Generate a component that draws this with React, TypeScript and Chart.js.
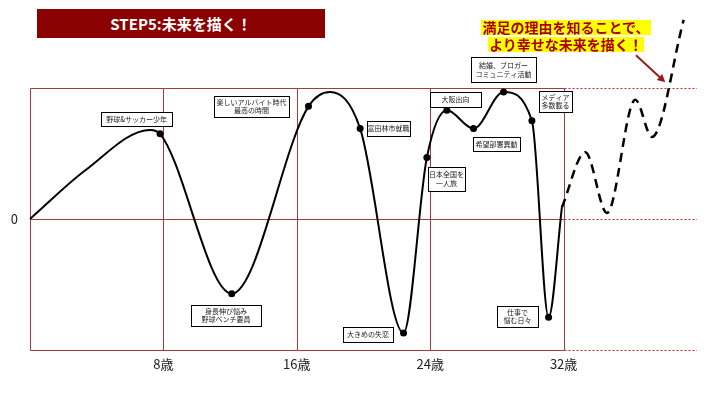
import React, { useEffect, useRef } from "react";
import { Chart, registerables } from "chart.js";
Chart.register(...registerables);

// ---- data ----
const pastAges = [0, 3.3, 7.2, 7.8, 12.1, 16.7, 18.0, 19.8, 22.4, 23.8, 25.0, 26.6, 28.4, 30.1, 31.1, 31.9];
const pastValues = [0, 37, 68, 65, -57, 86, 97, 69, -87, 47, 83, 69, 97, 75, -75, 9];
const pastDots = [0, 0, 0, 1, 1, 1, 0, 1, 1, 1, 1, 1, 1, 1, 1, 0];

const futureAges = [31.9, 33.3, 34.6, 36.3, 37.3, 39.2];
const futureValues = [9, 51, 4.6, 91, 62.6, 152];

const tickAges = [8, 16, 24, 32];
const tickLabels = ["8歳", "16歳", "24歳", "32歳"];
const zeroLabel = "0";

const eventLabels = [
  ["野球&サッカー少年"],
  ["楽しいアルバイト時代", "最高の時間"],
  ["身長伸び悩み", "野球ベンチ要員"],
  ["富田林市就職"],
  ["大きめの失恋"],
  ["日本全国を", "一人旅"],
  ["大阪出向"],
  ["結婚、ブロガー", "コミュニティ活動"],
  ["希望部署異動"],
  ["メディア", "多数載る"],
  ["仕事で", "悩む日々"],
];

const titleText = "STEP5:未来を描く！";
const calloutLines = ["満足の理由を知ることで、", "より幸せな未来を描く！"];

// ---- layout (box centers in chart units, sizes in px) ----
const boxLayout = [
  { x: 6.39, y: 76.3, w: 71, h: 14 },
  { x: 13.28, y: 85.9, w: 75, h: 21 },
  { x: 11.75, y: -73.7, w: 70, h: 21 },
  { x: 21.5, y: 69.1, w: 43, h: 15 },
  { x: 20.27, y: -88.2, w: 50, h: 15 },
  { x: 24.98, y: 30.5, w: 37, h: 24 },
  { x: 25.52, y: 91.2, w: 51, h: 15 },
  { x: 28.4, y: 114, w: 65, h: 25 },
  { x: 27.98, y: 57.3, w: 47, h: 14 },
  { x: 31.52, y: 89.7, w: 33, h: 21 },
  { x: 29.24, y: -74.4, w: 41, h: 21 },
];
const arrowLayout = { x1: 36.34, y1: 125, x2: 38.1, y2: 104.3 };

const FONT = "'Noto Sans CJK JP', 'Noto Sans', sans-serif";
const GRID_SOLID = "#A03C3C";
const GRID_DOTTED = "#C62828";

const framePlugin = {
  id: "frame",
  beforeDatasetsDraw(chart: any) {
    const { ctx, chartArea, scales } = chart;
    const x = scales.x, y = scales.y;
    const xEnd = Math.round(x.getPixelForValue(32)) + 0.5;
    const left = Math.round(chartArea.left) + 0.5;
    const right = chartArea.right;
    const top = Math.round(y.getPixelForValue(100)) + 0.5;
    const bottom = Math.round(y.getPixelForValue(-100)) + 0.5;
    ctx.save();
    ctx.lineWidth = 1;
    for (const v of [100, 0, -100]) {
      const py = Math.round(y.getPixelForValue(v)) + 0.5;
      ctx.strokeStyle = GRID_SOLID;
      ctx.setLineDash([]);
      ctx.beginPath();
      ctx.moveTo(left, py);
      ctx.lineTo(xEnd, py);
      ctx.stroke();
      ctx.strokeStyle = GRID_DOTTED;
      ctx.setLineDash([2, 2]);
      ctx.beginPath();
      ctx.moveTo(xEnd, py);
      ctx.lineTo(right, py);
      ctx.stroke();
    }
    ctx.setLineDash([]);
    ctx.strokeStyle = GRID_SOLID;
    for (const v of [0, ...tickAges]) {
      const px = Math.round(x.getPixelForValue(v)) + 0.5;
      ctx.beginPath();
      ctx.moveTo(px, top);
      ctx.lineTo(px, bottom);
      ctx.stroke();
    }
    ctx.restore();
  },
  afterDatasetsDraw(chart: any) {
    const { ctx, scales } = chart;
    const x = scales.x, y = scales.y;
    ctx.save();
    eventLabels.forEach((lines, i) => {
      const b = boxLayout[i];
      const cx = x.getPixelForValue(b.x);
      const cy = y.getPixelForValue(b.y);
      const l = Math.round(cx - b.w / 2) + 0.5;
      const t = Math.round(cy - b.h / 2) + 0.5;
      ctx.fillStyle = "#ffffff";
      ctx.fillRect(l, t, b.w, b.h);
      ctx.strokeStyle = "#000000";
      ctx.lineWidth = 1;
      ctx.strokeRect(l, t, b.w, b.h);
      ctx.fillStyle = "#222222";
      ctx.font = `7px ${FONT}`;
      ctx.textAlign = "center";
      ctx.textBaseline = "middle";
      const lh = 8.5;
      lines.forEach((s, k) => {
        ctx.fillText(s, cx, cy + (k - (lines.length - 1) / 2) * lh);
      });
    });
    // arrow
    const ax1 = x.getPixelForValue(arrowLayout.x1), ay1 = y.getPixelForValue(arrowLayout.y1);
    const ax2 = x.getPixelForValue(arrowLayout.x2), ay2 = y.getPixelForValue(arrowLayout.y2);
    const ang = Math.atan2(ay2 - ay1, ax2 - ax1);
    ctx.strokeStyle = "#9B1B1B";
    ctx.fillStyle = "#9B1B1B";
    ctx.lineWidth = 2;
    ctx.beginPath();
    ctx.moveTo(ax1, ay1);
    ctx.lineTo(ax2 - 6 * Math.cos(ang), ay2 - 6 * Math.sin(ang));
    ctx.stroke();
    ctx.beginPath();
    ctx.moveTo(ax2, ay2);
    ctx.lineTo(ax2 - 8 * Math.cos(ang) + 4 * Math.sin(ang), ay2 - 8 * Math.sin(ang) - 4 * Math.cos(ang));
    ctx.lineTo(ax2 - 8 * Math.cos(ang) - 4 * Math.sin(ang), ay2 - 8 * Math.sin(ang) + 4 * Math.cos(ang));
    ctx.closePath();
    ctx.fill();
    ctx.restore();
  },
};

export default function App() {
  const ref = useRef<HTMLCanvasElement | null>(null);
  useEffect(() => {
    if (!ref.current) return;
    Chart.defaults.font.family = FONT;
    const chart = new Chart(ref.current, {
      type: "line",
      data: {
        datasets: [
          {
            data: pastAges.map((a, i) => ({ x: a, y: pastValues[i] })),
            borderColor: "#000000",
            borderWidth: 2,
            cubicInterpolationMode: "monotone",
            pointRadius: pastDots.map((d) => (d ? 3.5 : 0)),
            pointBackgroundColor: "#000000",
            pointBorderWidth: 0,
            fill: false,
            clip: false as any,
          },
          {
            data: futureAges.map((a, i) => ({ x: a, y: futureValues[i] })),
            borderColor: "#000000",
            borderWidth: 2.5,
            borderDash: [9, 6],
            cubicInterpolationMode: "monotone",
            pointRadius: 0,
            fill: false,
            clip: false as any,
          },
        ],
      },
      options: {
        responsive: false,
        animation: false,
        devicePixelRatio: 1,
        layout: { padding: { top: 88, right: 23, bottom: 0, left: 0 } },
        plugins: { legend: { display: false }, tooltip: { enabled: false } },
        scales: {
          x: {
            type: "linear",
            min: 0,
            max: 40,
            grid: { display: false, drawTicks: false },
            border: { display: false },
            afterBuildTicks: (s: any) => {
              s.ticks = tickAges.map((v) => ({ value: v }));
            },
            afterFit: (s: any) => {
              s.height = 55;
            },
            ticks: {
              padding: 6,
              color: "#222222",
              font: { size: 13, family: FONT },
              maxRotation: 0,
              autoSkip: false,
              callback: (_v: any, i: number) => tickLabels[i],
            },
          },
          y: {
            type: "linear",
            min: -100,
            max: 100,
            grid: { display: false, drawTicks: false },
            border: { display: false },
            afterBuildTicks: (s: any) => {
              s.ticks = [{ value: 0 }];
            },
            afterFit: (s: any) => {
              s.width = 30;
            },
            ticks: {
              padding: 12,
              color: "#222222",
              font: { size: 13, family: FONT },
              callback: () => zeroLabel,
            },
          },
        },
      },
      plugins: [framePlugin],
    });
    return () => chart.destroy();
  }, []);

  return (
    <div style={{ position: "absolute", left: 0, top: 0, width: 720, height: 405, background: "#fff", fontFamily: FONT }}>
      <canvas ref={ref} width={720} height={405} style={{ position: "absolute", left: 0, top: 0, width: 720, height: 405 }} />
      <div
        style={{
          position: "absolute",
          left: 37,
          top: 9,
          width: 288,
          height: 29,
          background: "#8B0000",
          color: "#ffffff",
          fontWeight: 700,
          fontSize: 15,
          lineHeight: "29px",
          textAlign: "center",
        }}
      >
        {titleText}
      </div>
      {calloutLines.map((t, i) => (
        <div
          key={i}
          style={{
            position: "absolute",
            left: 466,
            width: 200,
            top: i === 0 ? 14 : 31,
            textAlign: "center",
          }}
        >
          <span
            style={{
              display: "inline-block",
              background: "#FFFF00",
              color: "#A80000",
              fontWeight: 700,
              fontSize: 14,
              height: 15,
              lineHeight: "15px",
              padding: "0 1px",
            }}
          >
            {t}
          </span>
        </div>
      ))}
    </div>
  );
}
